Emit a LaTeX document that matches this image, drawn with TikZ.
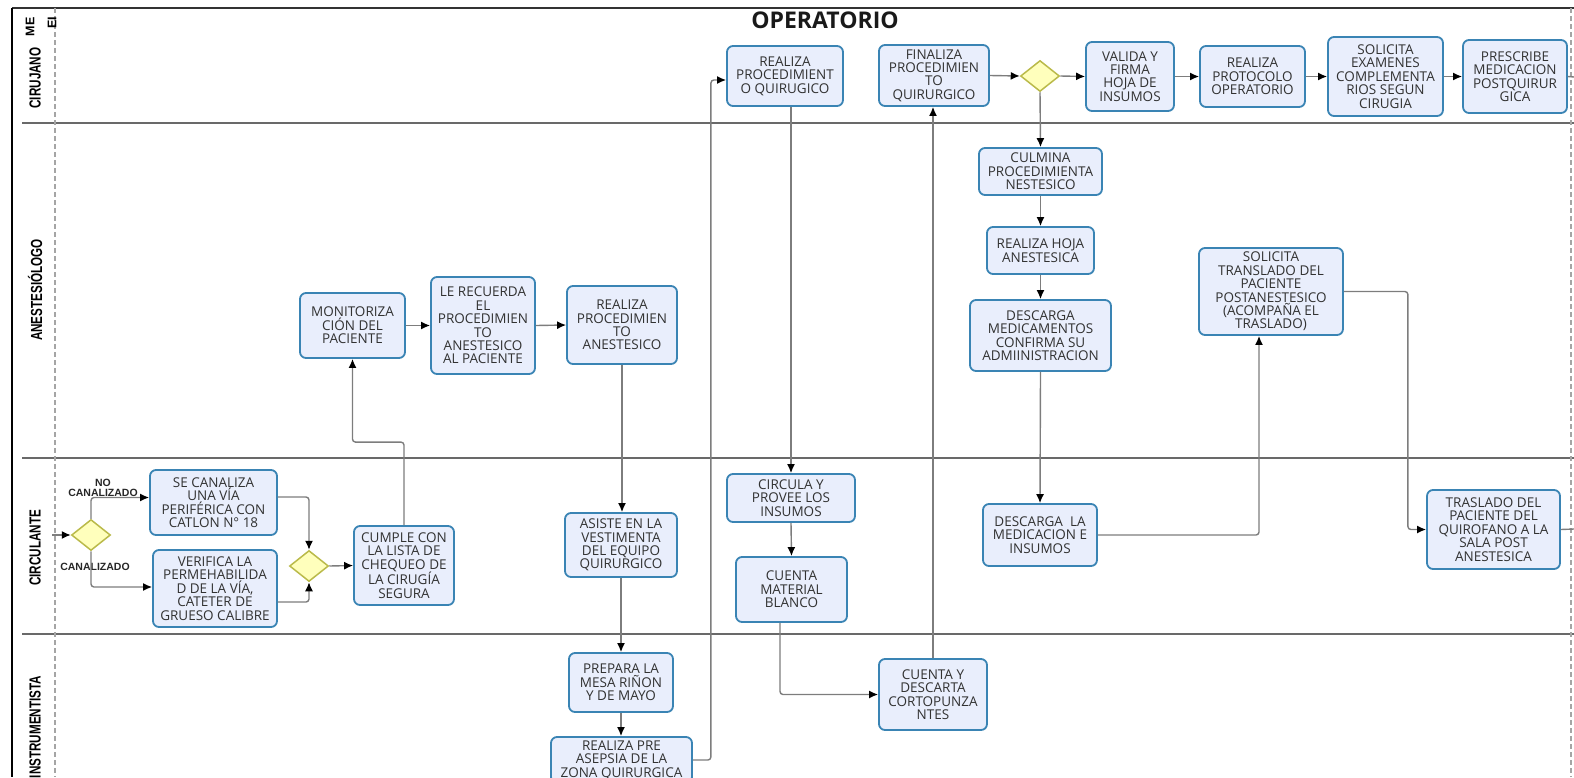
\documentclass[tikz,border=0pt]{standalone}
\usepackage{fontspec}
\setmainfont{Open Sans}
\newfontfamily\lanefont{Liberation Sans}
\usetikzlibrary{shapes.geometric,arrows.meta}
\definecolor{boxfill}{RGB}{233,238,252}
\definecolor{boxline}{RGB}{58,132,180}
\definecolor{gatefill}{RGB}{255,255,188}
\definecolor{gateline}{RGB}{186,186,74}
\definecolor{flowline}{RGB}{125,125,125}
\definecolor{txt}{RGB}{50,50,50}
\definecolor{laneline}{RGB}{105,105,105}
\definecolor{dashline}{RGB}{165,165,165}

\begin{document}
\begin{tikzpicture}[x=1pt,y=-1pt,
  task/.style={draw=boxline, fill=boxfill, line width=1.8pt, rounded corners=6pt,
    align=center, inner sep=1pt, text=txt, font=\fontsize{13.5}{13.4}\selectfont},
  sz/.style 2 args={minimum width=#1pt, minimum height=#2pt},
  gate/.style={diamond, draw=gateline, fill=gatefill, line width=1.5pt,
    minimum width=39pt, minimum height=31pt, inner sep=0pt},
  flow/.style={draw=flowline, line width=1.4pt, rounded corners=3pt,
    -{Latex[length=9pt,width=8pt,color=black]}},
  link/.style={draw=flowline, line width=1.4pt, rounded corners=3pt},
  lane/.style={rotate=90, text=black, font=\lanefont\bfseries\fontsize{16}{16}\selectfont},
  cond/.style={text=black!85, font=\lanefont\bfseries\fontsize{10.5}{11}\selectfont, align=center},
]
\useasboundingbox (0,0) rectangle (1574,777);
\clip (0,0) rectangle (1574,777);

% ---------- pool frame and lanes ----------
\draw[line width=1.2pt, black!80] (12,8) -- (1574,8);
\draw[line width=2pt, black] (12,8) -- (12,777);
\foreach \yy in {123,458,634}
  \draw[line width=1.4pt, laneline] (22,\yy) -- (1574,\yy);
\draw[dashline, line width=1.2pt, dash pattern=on 5pt off 3pt] (55,8) -- (55,777);
\draw[dashline, line width=1.2pt, dash pattern=on 5pt off 3pt] (1571,8) -- (1571,777);

\node[lane, font=\lanefont\bfseries\fontsize{12.5}{12.5}\selectfont] (hdrA) at (30,27) {ME};
\node[lane, font=\lanefont\bfseries\fontsize{12.5}{12.5}\selectfont] (hdrB) at (52,23) {EI};

\node[lane] (laneA) at (35,78)  {\scalebox{0.73}[1]{CIRUJANO}};
\node[lane] (laneB) at (35,290) {\scalebox{0.73}[1]{ANESTESIÓLOGO}};
\node[lane] (laneC) at (35,548) {\scalebox{0.73}[1]{CIRCULANTE}};
\node[lane] (laneD) at (35,727) {\scalebox{0.73}[1]{INSTRUMENTISTA}};

\node[text=black!90, font=\bfseries\fontsize{23}{23}\selectfont] (title) at (825,20) {OPERATORIO};

% ---------- surgeon lane ----------
\node[task, sz={116}{60}] (r1) at (785,76) {REALIZA\\PROCEDIMIENT\\O QUIRUGICO};
\node[task, sz={110}{61}] (f1) at (934,75.5) {FINALIZA\\PROCEDIMIEN\\TO\\QUIRURGICO};
\node[gate] (g3) at (1040,76) {};
\node[task, sz={88}{69}] (val) at (1130,76.5) {VALIDA Y\\FIRMA\\HOJA DE\\INSUMOS};
\node[task, sz={105}{61}] (prot) at (1252.5,76.5) {REALIZA\\PROTOCOLO\\OPERATORIO};
\node[task, sz={115}{79}] (exam) at (1385.5,76.5) {SOLICITA\\EXAMENES\\COMPLEMENTA\\RIOS SEGUN\\CIRUGIA};
\node[task, sz={104}{73}] (presc) at (1515,76.5) {PRESCRIBE\\MEDICACION\\POSTQUIRUR\\GICA};
\coordinate (outA) at (1574,77);

% ---------- anaesthetist lane ----------
\node[task, sz={123}{47}] (culm) at (1040.5,171.5) {CULMINA\\PROCEDIMIENTA\\NESTESICO};
\node[task, sz={107}{47}] (hoja) at (1040.5,250.5) {REALIZA HOJA\\ANESTESICA};
\node[task, sz={141}{71}] (desc) at (1040.5,335.5) {DESCARGA\\MEDICAMENTOS\\CONFIRMA SU\\ADMIINISTRACION};
\node[task, sz={144}{87}] (trasl) at (1271,291.5) {SOLICITA\\TRANSLADO DEL\\PACIENTE\\POSTANESTESICO\\(ACOMPAÑA EL\\TRASLADO)};
\node[task, sz={105}{65}] (mon) at (352.5,325.5) {MONITORIZA\\CIÓN DEL\\PACIENTE};
\node[task, sz={104}{97}] (recu) at (483,325.5) {LE RECUERDA\\EL\\PROCEDIMIEN\\TO\\ANESTESICO\\AL PACIENTE};
\node[task, sz={110}{78}] (anes) at (622,325) {REALIZA\\PROCEDIMIEN\\TO\\ANESTESICO};

% ---------- circulating nurse lane ----------
\coordinate (inC) at (52,535);
\node[gate] (g1) at (91,535) {};
\node[task, sz={127}{65}] (canal) at (213.5,502.5) {SE CANALIZA\\UNA VÍA\\PERIFÉRICA CON\\CATLON N° 18};
\node[task, sz={124}{77}] (verif) at (215,588.5) {VERIFICA LA\\PERMEHABILIDA\\D DE LA VÍA,\\CATETER DE\\GRUESO CALIBRE};
\node[gate] (g2) at (309,566) {};
\node[task, sz={100}{79}] (cumple) at (404,565.5) {CUMPLE CON\\LA LISTA DE\\CHEQUEO DE\\LA CIRUGÍA\\SEGURA};
\node[task, sz={112}{64}] (asiste) at (621,545) {ASISTE EN LA\\VESTIMENTA\\DEL EQUIPO\\QUIRURGICO};
\node[task, sz={128}{48}] (circ) at (791,498) {CIRCULA Y\\PROVEE LOS\\INSUMOS};
\node[task, sz={111}{65}] (cuenta) at (791.5,589.5) {CUENTA\\MATERIAL\\BLANCO};
\node[task, sz={114}{62}] (medic) at (1040,535) {DESCARGA~ LA\\MEDICACION E\\INSUMOS};
\node[task, sz={133}{79}] (sala) at (1493.5,529.5) {TRASLADO DEL\\PACIENTE DEL\\QUIROFANO A LA\\SALA POST\\ANESTESICA};
\coordinate (outC) at (1574,529);

\node[cond] (lblNo) at (103,488) {NO\\[-1pt]CANALIZADO};
\node[cond] (lblSi) at (95,567) {CANALIZADO};

% ---------- scrub nurse lane ----------
\node[task, sz={104}{59}] (mesa) at (621,682.5) {PREPARA LA\\MESA RIÑON\\Y DE MAYO};
\node[task, sz={141}{46}] (asep) at (621.5,760) {REALIZA PRE\\ASEPSIA DE LA\\ZONA QUIRURGICA};
\node[task, sz={108}{71}] (corto) at (933,694.5) {CUENTA Y\\DESCARTA\\CORTOPUNZA\\NTES};

% ---------- sequence flows ----------
\draw[flow] (inC) -- (g1.west);
\draw[flow] (g1.north) |- ([yshift=5pt]canal.west);
\draw[flow] (g1.south) |- ([yshift=1.5pt]verif.west);
\draw[flow] ([yshift=5.5pt]canal.east) -| (g2.north);
\draw[flow] ([yshift=-13.5pt]verif.east) -| (g2.south);
\draw[flow] (g2.east) -- (cumple.west);
\draw[flow] (cumple.north) -- ++(0,-83) -| (mon.south);
\draw[flow] (mon.east) -- (recu.west);
\draw[flow] (recu.east) -- (anes.west);
\draw[flow] (anes.south) -- (anes.south |- asiste.north);
\draw[flow] (asiste.south) -- (mesa.north);
\draw[flow] (mesa.south) -- (mesa.south |- asep.north);
\draw[flow] (asep.east) -- ++(18,0) |- ([yshift=-4pt]r1.west);
\draw[flow] (circ.north |- r1.south) -- (circ.north);
\draw[flow] (circ.south) -- (cuenta.north);
\draw[flow] ([xshift=-11.5pt]cuenta.south) |- (corto.west);
\draw[flow] (corto.north) -- (corto.north |- f1.south);
\draw[flow] (f1.east) -- (g3.west);
\draw[flow] (g3.east) -- (val.west);
\draw[flow] (val.east) -- (prot.west);
\draw[flow] (prot.east) -- (exam.west);
\draw[flow] (exam.east) -- (presc.west);
\draw[link] (presc.east) -- (outA);
\draw[flow] (g3.south) -- (culm.north);
\draw[flow] (culm.south) -- (hoja.north);
\draw[flow] (hoja.south) -- (desc.north);
\draw[flow] (desc.south) -- (medic.north);
\draw[flow] (medic.east) -| ([xshift=-12pt]trasl.south);
\draw[flow] (trasl.east) -- ++(64,0) |- (sala.west);
\draw[link] (sala.east) -- (outC);
\end{tikzpicture}
\end{document}
